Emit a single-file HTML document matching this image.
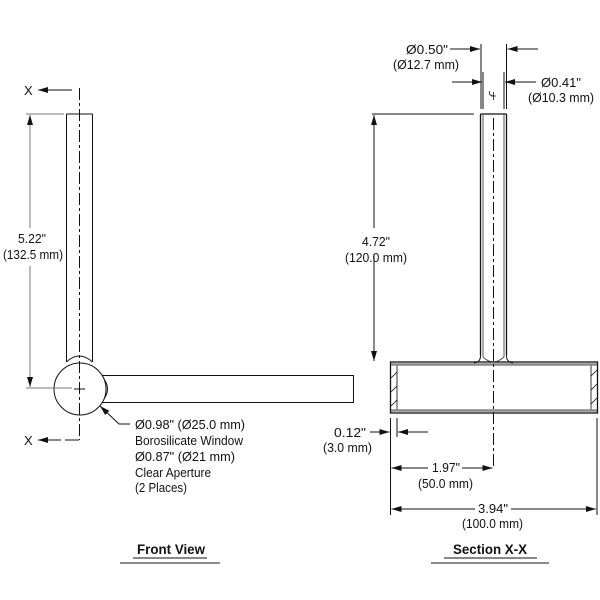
<!DOCTYPE html>
<html><head><meta charset="utf-8"><style>
html,body{margin:0;padding:0;background:#fff;}
svg{display:block;}
text{font-family:"Liberation Sans",sans-serif;font-size:13px;fill:#111;}
</style></head><body>
<svg width="600" height="600" viewBox="0 0 600 600" xmlns="http://www.w3.org/2000/svg">
<defs>
<marker id="a" viewBox="0 0 10 6" refX="10" refY="3" markerWidth="10" markerHeight="6" orient="auto" markerUnits="userSpaceOnUse"><path d="M0,0 L10,3 L0,6 Z" fill="#111"/></marker>
</defs>
<g stroke="#111" fill="none" stroke-width="1">
<path d="M66.5,114 V362 M92.5,114 V362 M66.5,114 H92.5"/>
<path d="M66.5,362 Q79,350 92.5,362" />
<path d="M101,375.5 H353.5 V402.5 H101"/>
<path d="M101,375.5 Q114,389 101,402.5"/>
<circle cx="80" cy="389" r="26" fill="#fff"/>
<path d="M79.5,88 V440" stroke-dasharray="12,3,3,3"/>
<path d="M74,389 H85"/>
<path d="M72,90 H38" marker-end="url(#a)"/>
<path d="M79,440 H38" marker-end="url(#a)" stroke-dasharray="14,4"/>
<path d="M26,114 H64 M26,388 H72" stroke="#777"/>
<path d="M30,228 V115" marker-end="url(#a)" stroke="#777"/>
<path d="M30,266 V387" marker-end="url(#a)" stroke="#777"/>
<path d="M130,424 H119 L100,406" marker-end="url(#a)"/>

<path d="M480.5,114 H506.5 M480.5,114 V355 M506.5,114 V355" stroke-width="1.3"/>
<path d="M483,114 V357 M504,114 V357" stroke="#555"/>
<path d="M480.5,355 Q481,362 474,363 M506.5,355 Q506,362 513,363"/>
<path d="M483,357 Q493,367 504,357" stroke="#555"/>
<rect x="390.5" y="362" width="207" height="51" stroke-width="1.3"/>
<path d="M397,364 V411 M591,364 V411" stroke="#333"/>
<path d="M391,364.5 H597 M391,410.5 H597" stroke="#888" stroke-width="2.5"/>
<path d="M391,378 L397,372 M391,392 L397,386 M391,406 L397,400 M591,376 L597,370 M591,390 L597,384 M591,404 L597,398" stroke-width="0.8"/>
<path d="M493.5,118 V468" stroke-dasharray="12,3,3,3"/>
<path d="M372,114 H474"/>
<path d="M374,228 V115" marker-end="url(#a)"/>
<path d="M374,254 V361" marker-end="url(#a)"/>
<path d="M481,44 V109 M506.5,44 V109 M483,72 V109 M504,72 V109"/>
<path d="M450,49 H480" marker-end="url(#a)"/>
<path d="M538,49 H507.5" marker-end="url(#a)"/>
<path d="M452,82 H482" marker-end="url(#a)"/>
<path d="M536,82 H505" marker-end="url(#a)"/>
<path d="M490,91 Q488,95 493,96 M493.5,92 V100 M491,96 H496" stroke-width="0.8"/>
<path d="M390.5,418 V515 M397,418 V437 M597,418 V515"/>
<path d="M370,432 H389.5" marker-end="url(#a)"/>
<path d="M428,432 H398" marker-end="url(#a)"/>
<path d="M428,468 H391.5" marker-end="url(#a)"/>
<path d="M462,468 H492.5" marker-end="url(#a)"/>
<path d="M475,509 H391.5" marker-end="url(#a)"/>
<path d="M511,509 H596" marker-end="url(#a)"/>
<path d="M133,558 H207 M444,558 H537" stroke="#888" stroke-width="2"/>
<path d="M120,563 H220 M431,563 H549" stroke="#444" stroke-width="1.2"/>
</g>
<g>
<text x="24" y="95">X</text>
<text x="24" y="445">X</text>
<text x="18" y="243" textLength="28" lengthAdjust="spacingAndGlyphs">5.22"</text>
<text x="3" y="259" textLength="60" lengthAdjust="spacingAndGlyphs">(132.5 mm)</text>
<text x="135" y="429" textLength="110" lengthAdjust="spacingAndGlyphs">Ø0.98" (Ø25.0 mm)</text>
<text x="135" y="445" textLength="108" lengthAdjust="spacingAndGlyphs">Borosilicate Window</text>
<text x="135" y="461" textLength="100" lengthAdjust="spacingAndGlyphs">Ø0.87" (Ø21 mm)</text>
<text x="135" y="477" textLength="76" lengthAdjust="spacingAndGlyphs">Clear Aperture</text>
<text x="135" y="492" textLength="52" lengthAdjust="spacingAndGlyphs">(2 Places)</text>
<text x="406" y="54" textLength="42" lengthAdjust="spacingAndGlyphs">Ø0.50"</text>
<text x="393" y="69" textLength="66" lengthAdjust="spacingAndGlyphs">(Ø12.7 mm)</text>
<text x="541" y="87" textLength="40" lengthAdjust="spacingAndGlyphs">Ø0.41"</text>
<text x="528" y="102" textLength="66" lengthAdjust="spacingAndGlyphs">(Ø10.3 mm)</text>
<text x="362" y="246" textLength="28" lengthAdjust="spacingAndGlyphs">4.72"</text>
<text x="345" y="262" textLength="62" lengthAdjust="spacingAndGlyphs">(120.0 mm)</text>
<text x="334" y="437" textLength="32" lengthAdjust="spacingAndGlyphs">0.12"</text>
<text x="323" y="452" textLength="49" lengthAdjust="spacingAndGlyphs">(3.0 mm)</text>
<text x="432" y="472" textLength="28" lengthAdjust="spacingAndGlyphs">1.97"</text>
<text x="418" y="488" textLength="55" lengthAdjust="spacingAndGlyphs">(50.0 mm)</text>
<text x="478" y="513" textLength="30" lengthAdjust="spacingAndGlyphs">3.94"</text>
<text x="462" y="528" textLength="61" lengthAdjust="spacingAndGlyphs">(100.0 mm)</text>
<text x="137" y="554" textLength="68" lengthAdjust="spacingAndGlyphs" style="font-weight:bold;font-size:14px">Front View</text>
<text x="453" y="554" textLength="74" lengthAdjust="spacingAndGlyphs" style="font-weight:bold;font-size:14px">Section X-X</text>
</g>
</svg>
</body></html>
